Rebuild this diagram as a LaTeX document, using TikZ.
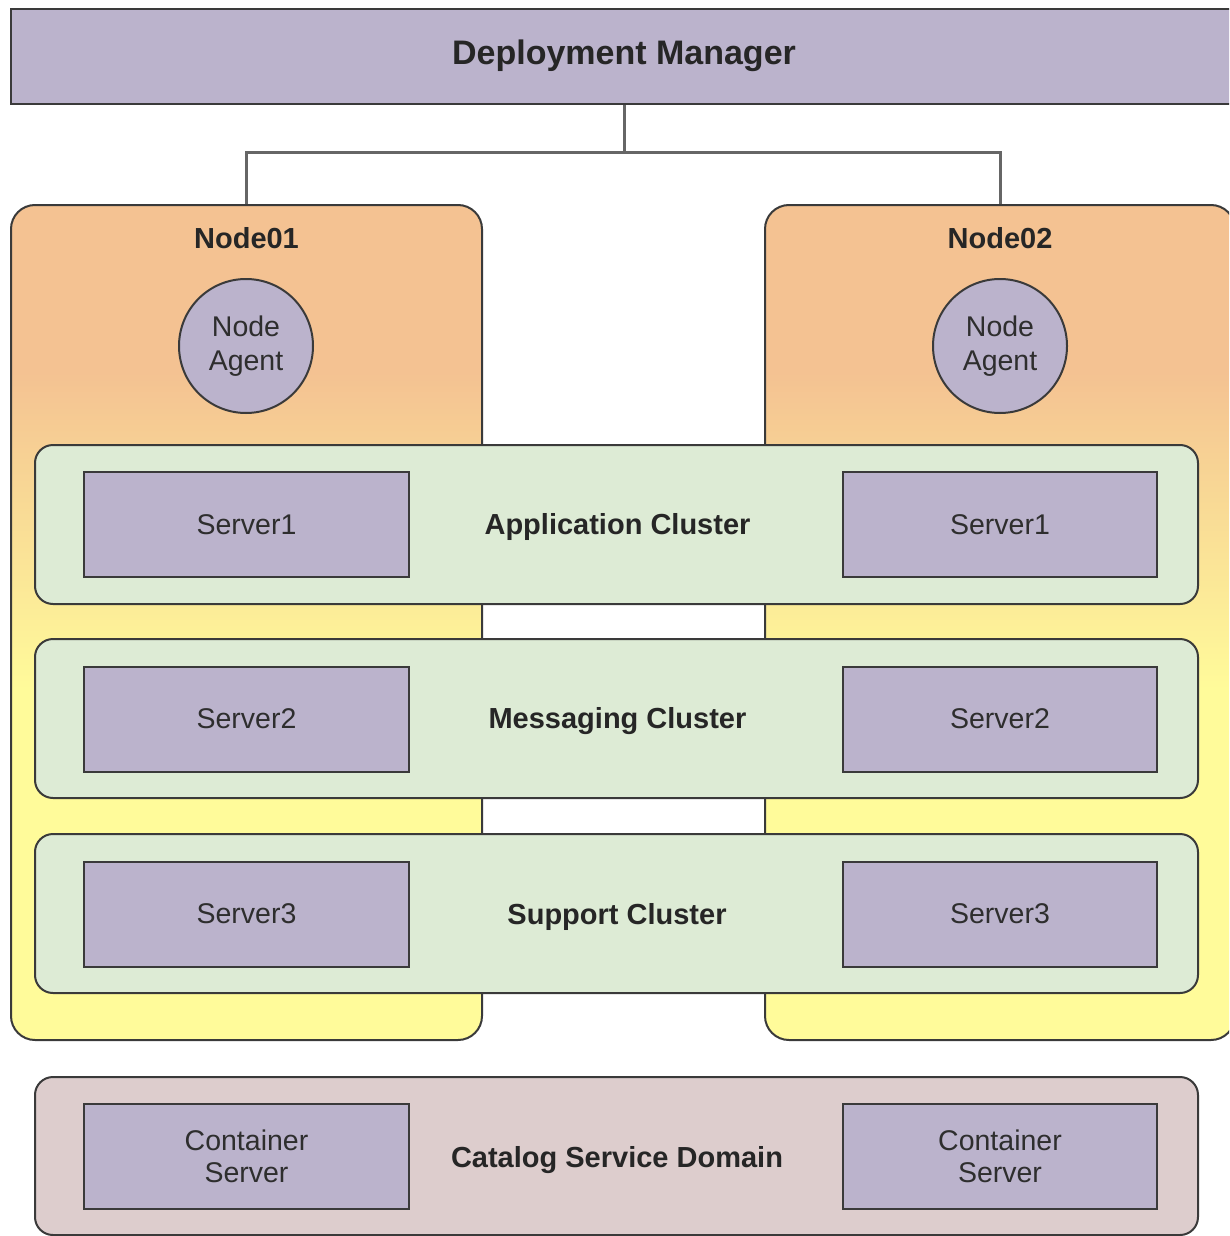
\documentclass[tikz,border=0pt]{standalone}
\usepackage{fontspec}
\setmainfont{Liberation Sans}
\definecolor{lav}{HTML}{BBB3CC}
\definecolor{grn}{HTML}{DDEBD5}
\definecolor{pnk}{HTML}{DDCDCD}
\definecolor{org}{HTML}{F4C292}
\definecolor{yel}{HTML}{FFFB9A}
\definecolor{edge}{HTML}{3A3A3A}
\definecolor{txt}{HTML}{2E2E2E}
\pgfdeclareverticalshading{nodeshade}{100bp}{color(0bp)=(yel); color(46bp)=(yel); color(65bp)=(org); color(100bp)=(org)}
\tikzset{
  box/.style={draw=edge, line width=2pt, inner sep=0pt},
  lavbox/.style={box, fill=lav, rectangle},
  nodebox/.style={box, rounded corners=24pt, shading=nodeshade},
  clusterbox/.style={box, fill=grn, rounded corners=18pt, minimum width=1163pt, minimum height=159pt},
  catbox/.style={box, fill=pnk, rounded corners=18pt, minimum width=1163pt, minimum height=158pt},
  serverbox/.style={lavbox, minimum height=105pt, text=txt, align=center, font=\fontsize{28.5}{33}\selectfont},
  agentbox/.style={box, circle, fill=lav, minimum size=134pt, text=txt, align=center, font=\fontsize{28.5}{34}\selectfont},
  titletext/.style={text=black!85, font=\fontsize{29}{33}\selectfont\bfseries, inner sep=0pt},
  connline/.style={draw=black!60, line width=3pt},
}
\begin{document}
\begin{tikzpicture}[x=1pt, y=-1pt]
\useasboundingbox (0,0) rectangle (1229,1236);
\clip (0,0) rectangle (1229,1236);
% deployment manager
\node[lavbox, minimum width=1226pt, minimum height=95pt] (dm) at (624,56.5) {};
\node[titletext, font=\fontsize{34}{38}\selectfont\bfseries] (dmt) at (624,56) {Deployment Manager};
% node boxes
\node[nodebox, minimum width=471pt, minimum height=835pt] (n1) at (246.5,622.5) {};
\node[nodebox, minimum width=470pt, minimum height=835pt] (n2) at (1000,622.5) {};
\node[titletext] (n1t) at (246.5,238) {Node01};
\node[titletext] (n2t) at (1000,238) {Node02};
% connectors
\coordinate (jn) at (624,152);
\draw[connline] (dm.south) -- (jn);
\draw[connline] (n1.north) |- (jn) -| (n2.north);
% agents
\node[agentbox] (a1) at (246,346) {Node\\Agent};
\node[agentbox] (a2) at (1000,346) {Node\\Agent};
% clusters
\node[clusterbox] (c1) at (616.5,524.5) {};
\node[clusterbox] (c2) at (616.5,718.5) {};
\node[clusterbox] (c3) at (616.5,913.5) {};
\node[catbox] (c4) at (616.5,1156) {};
\node[titletext] (c1t) at (617.5,527) {Application Cluster};
\node[titletext] (c2t) at (617.5,721) {Messaging Cluster};
\node[titletext] (c3t) at (617,917) {Support Cluster};
\node[titletext] (c4t) at (617,1160) {Catalog Service Domain};
% servers
\node[serverbox, minimum width=325pt] (s1l) at (246.5,524.5) {Server1};
\node[serverbox, minimum width=314pt] (s1r) at (1000,524.5) {Server1};
\node[serverbox, minimum width=325pt] (s2l) at (246.5,719) {Server2};
\node[serverbox, minimum width=314pt] (s2r) at (1000,719) {Server2};
\node[serverbox, minimum width=325pt] (s3l) at (246.5,914) {Server3};
\node[serverbox, minimum width=314pt] (s3r) at (1000,914) {Server3};
\node[serverbox, minimum width=325pt, font=\fontsize{28.5}{32}\selectfont] (s4l) at (246.5,1156.5) {Container\\Server};
\node[serverbox, minimum width=314pt, font=\fontsize{28.5}{32}\selectfont] (s4r) at (1000,1156.5) {Container\\Server};
\end{tikzpicture}
\end{document}
